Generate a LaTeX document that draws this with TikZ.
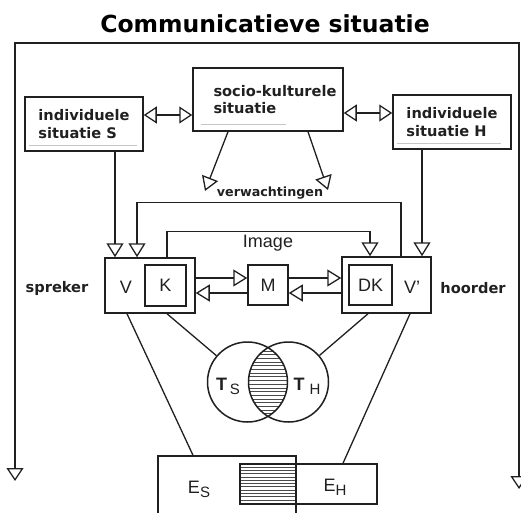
\documentclass[tikz,border=0pt]{standalone}
\usepackage{fontspec}
\setmainfont{DejaVu Sans}
\newfontfamily\helvfont{Liberation Sans}
\usepackage{tikz}
\usetikzlibrary{shapes,arrows.meta,positioning,calc}
\definecolor{ink}{HTML}{202020}
\definecolor{hatchgray}{HTML}{4A4A4A}
\newcommand{\lowidx}[1]{\raisebox{-4pt}{\fontsize{15}{15}\selectfont #1}}
\tikzstyle{box} = [rectangle, draw=ink, line width=1.5pt, inner sep=0pt]
\tikzstyle{circ} = [circle, draw=ink, line width=1.5pt, inner sep=0pt, minimum size=80pt]
\tikzstyle{tag} = [font=\fontsize{14.6}{17.5}\selectfont\bfseries, text=ink, inner sep=0pt]
\tikzstyle{letter} = [font=\helvfont\fontsize{18}{18}\selectfont, text=ink, inner sep=0pt]
\tikzstyle{arrow} = [-{Triangle[open, length=14pt, width=17pt]}, line width=1.3pt, draw=ink]
\tikzstyle{dblarrow} = [{Triangle[open, length=13pt, width=17pt]}-{Triangle[open, length=13pt, width=17pt]}, line width=1.3pt, draw=ink]
\tikzstyle{link} = [line width=1.3pt, draw=ink]
\tikzstyle{faint} = [line width=0.6pt, draw=gray!45]
\tikzstyle{hatchline} = [line width=0.8pt, draw=hatchgray]

\begin{document}
\begin{tikzpicture}[x=1pt, y=-1pt]
\useasboundingbox (0,0) rectangle (521,512);
\node[font=\fontsize{23.5}{28}\selectfont\bfseries, inner sep=0pt] (title) at (265,24) {Communicatieve situatie};

% outer frame
\coordinate (frameL) at (15,481);
\coordinate (frameT) at (265,43);
\coordinate (frameR) at (519,489);
\draw[dblarrow] (frameL) |- (frameT) -| (frameR);

% situations
\node[box, tag, align=left, minimum width=150pt, minimum height=63pt] (socio) at (268,99.5) {\hspace*{14pt}socio-kulturele\\\hspace*{14pt}situatie};
\node[box, tag, align=left, minimum width=118pt, minimum height=54pt] (indS) at (84,124) {individuele\\situatie S};
\node[box, tag, align=left, minimum width=118pt, minimum height=54pt] (indH) at (452,122) {individuele\\situatie H};
\draw[faint] ($(socio.south west)+(9,-7)$) -- ++(85,0);
\draw[faint] ($(indS.south west)+(5,-6)$) -- ++(108,0);
\draw[faint] ($(indH.south west)+(5,-6)$) -- ++(104,0);

% speaker, message, hearer
\node[box, minimum width=90pt, minimum height=55pt] (spk) at (150,285.5) {};
\node[box, letter, minimum width=41pt, minimum height=41pt] (K) at (165.5,285.5) {K};
\node[letter] (V) at (126,287) {V};
\node[box, letter, minimum width=40pt, minimum height=40pt] (M) at (268,285) {M};
\node[box, minimum width=89pt, minimum height=56pt] (hrd) at (386.5,285) {};
\node[box, letter, minimum width=43pt, minimum height=40pt] (DK) at (370.5,285) {DK};
\node[letter] (Vp) at (412,287) {V’};
\node[tag] (spreker) at (57,288) {spreker};
\node[tag] (hoorder) at (473,288) {hoorder};
\node[tag, font=\fontsize{12.7}{15}\selectfont\bfseries] (verw) at (270,193) {verwachtingen};
\node[letter] (image) at (268,243) {Image};

\coordinate (verwL) at (205,191);
\coordinate (verwR) at (328,190);
\draw[dblarrow] ($(indS.east)+(0,-9)$) -- ($(socio.west)+(0,15.5)$);
\draw[dblarrow] ($(socio.east)+(0,13.5)$) -- ($(indH.west)+(0,-9)$);
\draw[arrow] ($(socio.south)+(-40,0)$) -- (verwL);
\draw[arrow] ($(socio.south)+(40,0)$) -- (verwR);
\draw[arrow] ($(indS.south)+(31,0)$) -- ($(spk.north)+(-35,0)$);
\draw[arrow] ($(hrd.north)+(14.5,0)$) -- ++(0,-54) -| ($(spk.north)+(-13,0)$);
\draw[arrow] ($(spk.north)+(17,0)$) -- ++(0,-26) -| ($(hrd.north)+(-16.5,0)$);
\draw[arrow] ($(indH.south)+(-30,0)$) -- ($(hrd.north)+(35.5,0)$);
\draw[arrow] ($(spk.east)+(0,-7.5)$) -- ($(M.west)+(0,-7)$);
\draw[arrow] ($(M.east)+(0,-7)$) -- ($(hrd.west)+(0,-7)$);
\draw[arrow] ($(M.west)+(0,8)$) -- ($(spk.east)+(0,7.5)$);
\draw[arrow] ($(hrd.west)+(0,8)$) -- ($(M.east)+(0,8)$);

% shared knowledge
\coordinate (cS) at (247.5,382);
\coordinate (cH) at (288.5,382);
\begin{scope}
  \clip (cS) circle (40pt);
  \clip (cH) circle (40pt);
  \foreach \y in {343.5,347.2,...,422} \draw[hatchline] (200,\y) -- (340,\y);
\end{scope}
\node[circ] (TS) at (cS) {};
\node[circ] (TH) at (cH) {};
\node[letter] (tsl) at (228,386) {\bfseries T\hspace{3pt}\mdseries\lowidx{S}};
\node[letter] (thl) at (307,386) {\bfseries T\hspace{5pt}\mdseries\lowidx{H}};

% expressions
\foreach \y in {467,470.3,...,503} \draw[hatchline] (240,\y) -- (296,\y);
\node[box, minimum width=137pt, minimum height=40pt] (EH) at (308.5,484) {};
\node[box, minimum width=138pt, minimum height=64pt] (ES) at (227,488) {};
\node[letter] (esl) at (199,489) {E\lowidx{S}};
\node[letter] (ehl) at (335,487) {E\lowidx{H}};

\draw[link] ($(spk.south)+(-23,0)$) -- ($(ES.north)+(-34,0)$);
\draw[link] ($(spk.south)+(17,0)$) -- (TS);
\draw[link] ($(hrd.south)+(-18.5,0)$) -- (TH);
\draw[link] ($(hrd.south)+(23.5,0)$) -- ($(EH.north)+(34.5,0)$);
\end{tikzpicture}
\end{document}
